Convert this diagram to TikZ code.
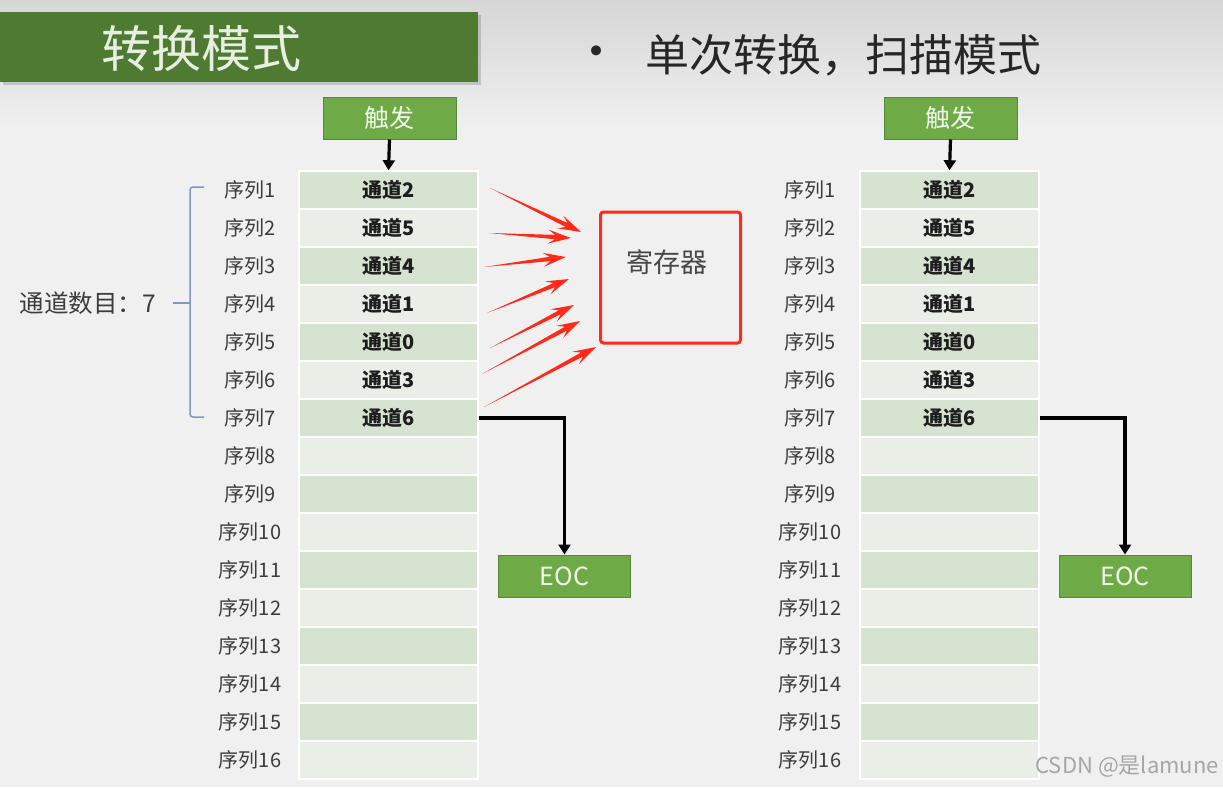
\documentclass[tikz,border=0pt]{standalone}
\usepackage{fontspec}
\setmainfont{Noto Sans CJK SC}
\newfontfamily\symfont{DejaVu Sans}
\usetikzlibrary{calc,arrows.meta,shadows}
\definecolor{bg}{HTML}{F0F0F0}
\definecolor{bgtop}{HTML}{D6D6D6}
\definecolor{titlegreen}{HTML}{4E7A32}
\definecolor{titletext}{HTML}{E8EFE2}
\definecolor{boxgreen}{HTML}{6EAB46}
\definecolor{boxborder}{HTML}{55883A}
\definecolor{boxtext}{HTML}{F2F8EE}
\definecolor{rowdark}{HTML}{D5E3D0}
\definecolor{rowlight}{HTML}{E9EFE6}
\definecolor{regred}{HTML}{FF2A1A}
\definecolor{bracecol}{HTML}{8097C4}
\definecolor{seqtext}{HTML}{3C3C3C}
\definecolor{chantext}{HTML}{1E1E1E}
\definecolor{maintext}{HTML}{262626}
\newcommand\fsz[1]{\fontsize{#1}{#1}\selectfont}
\newcommand\redarrow[2]{%
  \coordinate (hb) at ($(#2)!16pt!(#1)$);
  \coordinate (wb) at ($(#2)!23pt!(#1)$);
  \fill[regred] (#1) -- ($(hb)!2.2pt!90:(#2)$) -- ($(wb)!7pt!90:(#2)$) -- (#2)
     -- ($(wb)!7pt!-90:(#2)$) -- ($(hb)!2.2pt!-90:(#2)$) -- cycle;}
\begin{document}
\begin{tikzpicture}[x=1pt,y=-1pt,
  cell/.style={draw=white, line width=1.5pt, minimum width=179pt, minimum height=38pt, inner sep=0pt},
  seq/.style={text=seqtext, font=\fsz{20}, inner sep=0pt},
  chan/.style={text=chantext, font=\fsz{20}\bfseries, inner sep=0pt},
  greenbox/.style={fill=boxgreen, draw=boxborder, line width=1pt, minimum height=42pt, text=boxtext, font=\fsz{25}, inner sep=0pt},
  blkarrow/.style={draw=black, line width=3.2pt, -{Triangle[length=10pt,width=12pt]}},
]
\useasboundingbox (0,0) rectangle (1223,787);
\fill[bg] (0,0) rectangle (1223,787);
\shade[top color=bgtop, bottom color=bg] (0,0) rectangle (1223,130);

% title
\node[fill=titlegreen, minimum width=478pt, minimum height=70pt, inner sep=0pt,
      drop shadow={shadow xshift=3pt, shadow yshift=-3pt, opacity=0.35}] (title) at (239,47) {};
\node[text=titletext, font=\fsz{50}, inner sep=0pt] (titletxt) at (201,48) {转换模式};
\node[text=maintext, font=\symfont\fsz{34}, inner sep=0pt] (bullet) at (597,55) {•};
\node[text=maintext, font=\fsz{44}, inner sep=0pt, anchor=west] (subtitle) at (645,55) {单次转换，扫描模式};

% tables
\foreach \side/\cx/\sx in {L/388.5/250, R/949.5/810}{
  \foreach \i in {1,...,16}{
    \pgfmathsetmacro\yy{190+38*(\i-1)}
    \ifodd\i\def\rc{rowdark}\else\def\rc{rowlight}\fi
    \node[cell, fill=\rc] (\side\i) at (\cx,\yy) {};
    \node[seq] (\side S\i) at (\sx,\yy) {序列\i};
  }
  \foreach \i/\c in {1/2,2/5,3/4,4/1,5/0,6/3,7/6}{
    \node[chan] (\side C\i) at (\side\i) {通道\c};
  }
}

% triggers and EOC
\node[greenbox, minimum width=133pt] (LT) at (389.5,118) {触发};
\node[greenbox, minimum width=133pt] (RT) at (950.5,118) {触发};
\draw[blkarrow] (LT.south) -- (L1.north);
\draw[blkarrow] (RT.south) -- (R1.north);
\node[greenbox, minimum width=132pt] (LE) at (564.5,576) {EOC};
\node[greenbox, minimum width=132pt] (RE) at (1125,576) {EOC};
\draw[blkarrow] (L7.east) -| (LE.north);
\draw[blkarrow] (R7.east) -| (RE.north);

% register
\node[draw=regred, line width=3pt, rounded corners=3pt, minimum width=140pt, minimum height=131pt, inner sep=0pt] (reg) at (670.5,277.5) {};
\node[text=maintext!85, font=\fsz{27}, inner sep=0pt] (regtxt) at (667,262) {寄存器};

% red arrows
\coordinate (s1) at (490,188); \coordinate (e1) at (581,232);
\coordinate (s2) at (489,233); \coordinate (e2) at (571,238);
\coordinate (s3) at (484,267); \coordinate (e3) at (566,257);
\coordinate (s4) at (487,313); \coordinate (e4) at (569,279);
\coordinate (s5) at (490,348); \coordinate (e5) at (574,305);
\coordinate (s6) at (482,374); \coordinate (e6) at (580,321);
\coordinate (s7) at (484,407); \coordinate (e7) at (596,347);
\redarrow{s1}{e1}
\redarrow{s2}{e2}
\redarrow{s3}{e3}
\redarrow{s4}{e4}
\redarrow{s5}{e5}
\redarrow{s6}{e6}
\redarrow{s7}{e7}

% brace
\coordinate (bt) at (204,187);
\coordinate (bb) at (204,417);
\coordinate (bm) at (190,303);
\coordinate (bl) at (173,303);
\draw[bracecol, line width=1.5pt, rounded corners=3pt] (bt) -- (190,187) -- (190,417) -- (bb);
\draw[bracecol, line width=1.5pt] (bl) -- (bm);
\node[text=seqtext, font=\fsz{24.5}, inner sep=0pt, anchor=east] (cnt) at (156,303) {通道数目：7};

% watermark
\node[text=black!35, font=\fsz{22}, inner sep=0pt, anchor=east] (wm) at (1219,767) {CSDN @是lamune};
\end{tikzpicture}
\end{document}
